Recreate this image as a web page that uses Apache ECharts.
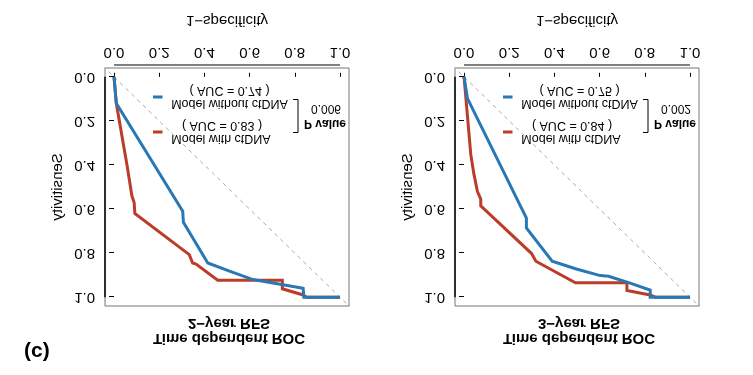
<!DOCTYPE html>
<html>
<head>
<meta charset="utf-8">
<script src="https://cdn.jsdelivr.net/npm/echarts@6/dist/echarts.min.js"></script>
<style>
  html, body { margin: 0; padding: 0; background: #fff; }
  #wrap { position: relative; width: 753px; height: 375px; }
  #chart { width: 753px; height: 375px; transform: scaleY(-1); }
  #tag { position: absolute; left: 24px; top: 338px; font: bold 21px 'Liberation Sans', Arial, sans-serif; color: #000; }
</style>
</head>
<body>
<div id="wrap">
  <div id="chart"></div>
  <div id="tag">(c)</div>
</div>
<script>
  // ticks shared by both panels
  const tickValues = [0, 0.2, 0.4, 0.6, 0.8, 1.0]
  const panelTitles = ['2−year RFS', '3−year RFS']
  const aucWith = ['0.83', '0.84']
  const aucWithout = ['0.74', '0.75']
  const pValues = ['0.006', '0.002']

  // 2-year RFS : 1-specificity (x) / sensitivity (y)
  const fpr2yWith = [0, 0.010, 0.059, 0.079, 0.089, 0.092, 0.333, 0.348, 0.363, 0.459, 0.745, 0.745, 0.837, 0.852, 1]
  const tpr2yWith = [0, 0.120, 0.410, 0.540, 0.570, 0.620, 0.807, 0.845, 0.850, 0.923, 0.923, 0.962, 0.990, 1.000, 1]
  const fpr2yWithout = [0, 0.010, 0.304, 0.307, 0.415, 0.511, 0.615, 0.837, 0.840, 1]
  const tpr2yWithout = [0, 0.120, 0.610, 0.660, 0.845, 0.882, 0.920, 0.960, 1.000, 1]

  // 3-year RFS
  const fpr3yWith = [0, 0.009, 0.030, 0.043, 0.059, 0.074, 0.074, 0.299, 0.318, 0.493, 0.721, 0.721, 0.824, 0.847, 1]
  const tpr3yWith = [0, 0.106, 0.354, 0.437, 0.520, 0.555, 0.585, 0.802, 0.837, 0.935, 0.935, 0.970, 0.990, 1.000, 1]
  const fpr3yWithout = [0, 0.015, 0.276, 0.276, 0.390, 0.497, 0.603, 0.640, 0.732, 0.824, 0.824, 1]
  const tpr3yWithout = [0, 0.098, 0.641, 0.686, 0.837, 0.872, 0.902, 0.905, 0.935, 0.968, 1.000, 1]

  const diagonal = [-0.1, 1.1]

  const RED = '#BC3C29'
  const BLUE = '#2878B5'
  const FONT = "'Liberation Sans', Arial, sans-serif"

  const panels = [
    {left: 105, withX: fpr2yWith, withY: tpr2yWith, woX: fpr2yWithout, woY: tpr2yWithout},
    {left: 455, withX: fpr3yWith, withY: tpr3yWith, woX: fpr3yWithout, woY: tpr3yWithout}
  ]
  const boxW = 244, boxTop = 69, boxH = 238
  const xAxisOffset = 3

  function pairs(xs, ys) {
    return xs.map((x, i) => [x, ys[i]])
  }

  function axisCommon(name, gap, margin, tickLen) {
    return {
      type: 'value',
      min: -0.04,
      max: 1.04,
      name: name,
      nameLocation: 'middle',
      nameGap: gap,
      nameTextStyle: {fontSize: 15, color: '#000', fontFamily: FONT},
      splitLine: {show: false},
      axisLine: {show: false},
      axisTick: {show: true, length: tickLen, customValues: tickValues, lineStyle: {color: '#000', width: 1}},
      axisLabel: {
        margin: margin,
        fontSize: 15,
        color: '#000',
        fontFamily: FONT,
        customValues: tickValues,
        formatter: v => v.toFixed(1)
      }
    }
  }

  const txt = (x, y, s, bold, size) => ({
    type: 'text', x: x, y: y,
    style: {text: s, align: 'center', verticalAlign: 'middle', fill: '#000',
      font: (bold ? 'bold ' : '') + size + 'px ' + FONT}
  })
  const seg = (x1, y1, x2, y2, color, w) => ({
    type: 'line', shape: {x1: x1, y1: y1, x2: x2, y2: y2},
    style: {stroke: color, lineWidth: w}
  })

  function legendGraphics(p, i) {
    const L = p.left
    const cx = L + boxW / 2
    return [
      txt(cx + 2, 37, 'Time dependent ROC', true, 15),
      txt(cx + 2, 52, panelTitles[i], true, 15),
      seg(L + 48, 243, L + 57.5, 243, RED, 3),
      txt(L + 116, 236.5, 'Model with ctDNA', false, 12.5),
      txt(L + 117, 249.5, '( AUC = ' + aucWith[i] + ' )', false, 12.5),
      seg(L + 48, 278, L + 57.5, 278, BLUE, 3),
      txt(L + 124.5, 271.5, 'Model without ctDNA', false, 12.5),
      txt(L + 124.5, 285, '( AUC = ' + aucWithout[i] + ' )', false, 12.5),
      seg(L + 193, 242.5, L + 193, 275.5, '#000', 1),
      seg(L + 188, 242.5, L + 193, 242.5, '#000', 1),
      seg(L + 188, 275.5, L + 193, 275.5, '#000', 1),
      txt(L + 220, 252, 'P value', true, 12),
      txt(L + 221, 267, pValues[i], false, 12)
    ]
  }

  const chart = echarts.init(document.getElementById('chart'))

  const grids = panels.map(p => ({
    left: p.left, top: boxTop, width: boxW, height: boxH,
    show: true, borderColor: '#777', borderWidth: 1, backgroundColor: 'transparent'
  }))

  const xAxes = panels.map((p, i) => Object.assign(axisCommon('1−specificity', 37, 5, 4), {gridIndex: i, offset: xAxisOffset}))
  const yAxes = panels.map((p, i) => Object.assign(axisCommon('Sensitivity', 40, 10, 5), {gridIndex: i}))

  const series = []
  panels.forEach((p, i) => {
    series.push({
      type: 'line', xAxisIndex: i, yAxisIndex: i, silent: true, showSymbol: false,
      data: pairs(diagonal, diagonal),
      lineStyle: {color: '#aaa', width: 1, type: [4, 4]}, z: 1
    })
    series.push({
      type: 'line', xAxisIndex: i, yAxisIndex: i, showSymbol: false,
      data: pairs(p.withX, p.withY),
      lineStyle: {color: RED, width: 3, join: 'miter'}, z: 2
    })
    series.push({
      type: 'line', xAxisIndex: i, yAxisIndex: i, showSymbol: false,
      data: pairs(p.woX, p.woY),
      lineStyle: {color: BLUE, width: 3, join: 'miter'}, z: 3
    })
  })

  chart.setOption({
    animation: false,
    grid: grids,
    xAxis: xAxes,
    yAxis: yAxes,
    series: series
  })

  // R-style axis lines: only from the first to the last tick
  const graphics = []
  panels.forEach((p, i) => {
    const a = chart.convertToPixel({gridIndex: i}, [0, 0])
    const b = chart.convertToPixel({gridIndex: i}, [1, 1])
    const bottom = boxTop + boxH + xAxisOffset
    graphics.push(seg(a[0], bottom, b[0], bottom, '#000', 1))
    graphics.push(seg(p.left, a[1], p.left, b[1], '#000', 1.5))
    graphics.push(...legendGraphics(p, i))
  })
  chart.setOption({graphic: graphics})
</script>
</body>
</html>
